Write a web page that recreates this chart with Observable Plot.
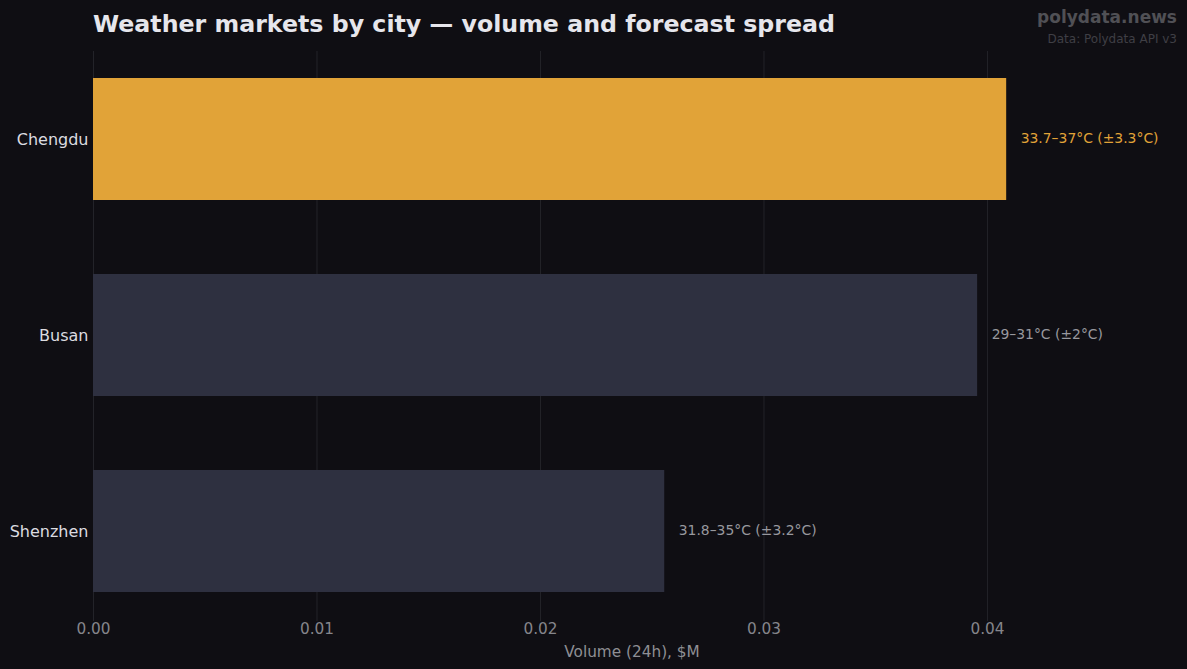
<!DOCTYPE html>
<html>
<head>
<meta charset="utf-8">
<script src="https://cdn.jsdelivr.net/npm/d3@7"></script>
<script src="https://cdn.jsdelivr.net/npm/@observablehq/plot@0.6"></script>
<style>
  html, body { margin: 0; padding: 0; background: #0f0e13; }
  #wrap { position: relative; width: 1187px; height: 669px; background: #0f0e13; font-family: "DejaVu Sans", sans-serif; overflow: hidden; }
  #title { position: absolute; left: 93px; top: 10px; font-size: 23.7px; font-weight: bold; color: #e6e6ec; white-space: nowrap; }
  #brand { position: absolute; right: 10px; top: 7px; font-size: 17px; font-weight: bold; color: #505055; }
  #source { position: absolute; right: 10px; top: 32px; font-size: 12px; color: #3f3f45; }
  #chart { position: absolute; left: 0; top: 0; }
</style>
</head>
<body>
<div id="wrap">
  <div id="chart"></div>
  <div id="title">Weather markets by city — volume and forecast spread</div>
  <div id="brand">polydata.news</div>
  <div id="source">Data: Polydata API v3</div>
</div>
<script>
const cities = ["Chengdu", "Busan", "Shenzhen"];
const volumes = [0.04086, 0.03956, 0.02556];
const spreadLabels = ["33.7–37°C (±3.3°C)", "29–31°C (±2°C)", "31.8–35°C (±3.2°C)"];
const highlight = ["Chengdu"];
const xTicks = [0, 0.01, 0.02, 0.03, 0.04];

const data = cities.map((c, i) => ({city: c, volume: volumes[i], label: spreadLabels[i], hi: highlight.includes(c)}));

const chart = Plot.plot({
  width: 1187,
  height: 669,
  marginLeft: 93,
  marginRight: 17,
  marginTop: 51,
  marginBottom: 51,
  style: {background: "transparent", fontFamily: "DejaVu Sans, sans-serif", color: "#8a8a90"},
  x: {domain: [0, 0.04819], ticks: xTicks, tickFormat: d3.format(".2f"), label: null},
  y: {domain: cities, paddingInner: 0.38, paddingOuter: 0.13, label: null},
  marks: [
    Plot.gridX(xTicks, {stroke: "#232329", strokeOpacity: 1, strokeWidth: 1}),
    Plot.barX(data, {x: "volume", y: "city", fill: d => d.hi ? "#e1a338" : "#2e3040"}),
    Plot.text(data, {x: "volume", y: "city", text: "label", dx: 14, dy: -1, textAnchor: "start", fontSize: 13.9, fill: d => d.hi ? "#e1a338" : "#98989e"}),
    Plot.axisX({ticks: xTicks, tickFormat: d3.format(".2f"), tickSize: 3, stroke: "#232329", fill: "#85858b", fontSize: 15.3, tickPadding: 2, label: null}),
    Plot.axisY({tickSize: 0, tickPadding: 5, fill: "#dcdce0", fontSize: 16, label: null}),
    Plot.text(["Volume (24h), $M"], {frameAnchor: "bottom", dy: 38, fill: "#8e8e94", fontSize: 15.3})
  ]
});
document.getElementById("chart").appendChild(chart);
</script>
</body>
</html>
